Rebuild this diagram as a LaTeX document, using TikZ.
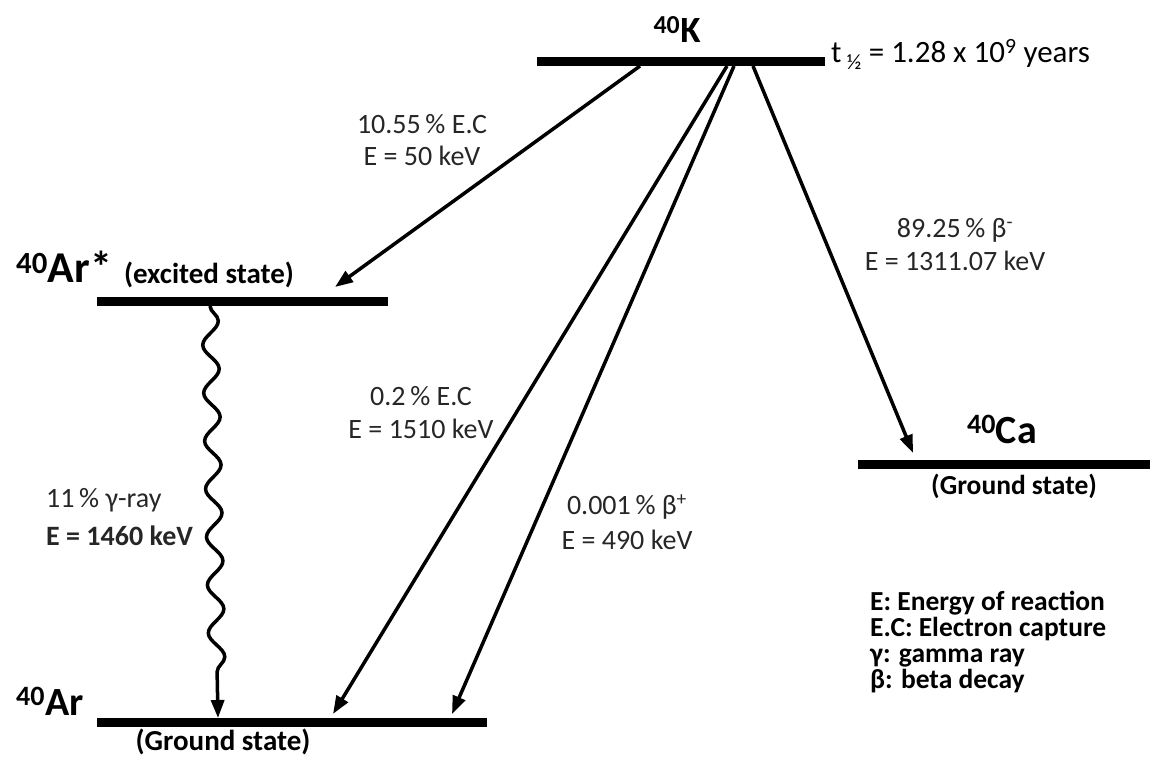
\documentclass[tikz,border=0pt]{standalone}
\usepackage{fontspec}
\setmainfont{Carlito}
\usetikzlibrary{arrows.meta,positioning,calc,decorations.pathmorphing}

\begin{document}
\begin{tikzpicture}[x=1pt,y=-1pt,
  lvl/.style={line width=9pt},
  tr/.style={line width=3.5pt,-{Triangle[length=18pt,width=13pt]}},
  lab/.style={font=\fontsize{28}{33}\selectfont,text=black!85,align=center,inner sep=0pt},
  nuc/.style={font=\fontsize{40}{44}\selectfont\bfseries,inner sep=0pt},
  st/.style={font=\fontsize{29}{32}\selectfont\bfseries,inner sep=0pt}]
\useasboundingbox (0,0) rectangle (1157,762);
% energy levels
\coordinate (kL) at (537,61.5);  \coordinate (kR) at (825,61.5);
\coordinate (xL) at (97,301);    \coordinate (xR) at (388,301);
\coordinate (cL) at (858,464);   \coordinate (cR) at (1150,464);
\coordinate (gL) at (97,722);    \coordinate (gR) at (487,722);
\draw[lvl] (kL) -- (kR);
\draw[lvl] (xL) -- (xR);
\draw[lvl] (cL) -- (cR);
\draw[lvl] (gL) -- (gR);
% level names
\node[nuc,font=\fontsize{37}{40}\selectfont\bfseries,anchor=base] (kname) at (677,43) {\textsuperscript{40}K};
\node[nuc,font=\fontsize{44}{48}\selectfont\bfseries,anchor=base west] (xname) at (16,283) {\textsuperscript{40}Ar*};
\node[st] (xstate) at (209,275) {(excited state)};
\node[nuc,anchor=base] (cname) at (1002,443) {\textsuperscript{40}Ca};
\node[st,font=\fontsize{27.5}{30}\selectfont\bfseries] (cstate) at (1014,486) {(Ground state)};
\node[nuc,anchor=base west] (gname) at (16,715) {\textsuperscript{40}Ar};
\node[st] (gstate) at (223,742) {(Ground state)};
\node[lab,text=black,anchor=base west,font=\fontsize{31}{34}\selectfont] (half) at (831,63)
  {t\,\textsubscript{½} = 1.28 x 10\textsuperscript{9} years};
% transitions
\coordinate (k1) at (640,66);  \coordinate (k2) at (727,66);
\coordinate (k3) at (734,66);  \coordinate (k4) at (753,66);
\coordinate (ex) at (335,287); \coordinate (g1) at (333,714);
\coordinate (g2) at (452,714); \coordinate (ca) at (913,453);
\coordinate (w0) at (210,306); \coordinate (w1) at (218,718);
\draw[tr] (k1) -- (ex);
\draw[tr] (k2) -- (g1);
\draw[tr] (k3) -- (g2);
\draw[tr] (k4) -- (ca);
\draw[tr,decorate,decoration={snake,amplitude=8pt,segment length=48pt,post length=24pt}] (w0) -- (w1);
% transition labels
\node[lab,font=\fontsize{28}{32}\selectfont] (ecA) at (422,140) {10.55\,\% E.C\\E = 50 keV};
\node[lab] (bm) at (955,245) {89.25\,\% β\textsuperscript{-}\\E = 1311.07 keV};
\node[lab] (ecB) at (421,413) {0.2\,\% E.C\\E = 1510 keV};
\node[lab,font=\fontsize{28}{35}\selectfont] (bp) at (627,522) {0.001\,\% β\textsuperscript{+}\\E = 490 keV};
\node[lab,align=left,anchor=west,font=\fontsize{28}{38}\selectfont] (gam) at (46,517) {11\,\% γ-ray\\\textbf{E = 1460 keV}};
% legend
\node[st,align=left,anchor=west,font=\fontsize{27.5}{26}\selectfont\bfseries] (leg) at (870,642)
  {E: Energy of reaction\\E.C: Electron capture\\γ: gamma ray\\β: beta decay};
\end{tikzpicture}
\end{document}
